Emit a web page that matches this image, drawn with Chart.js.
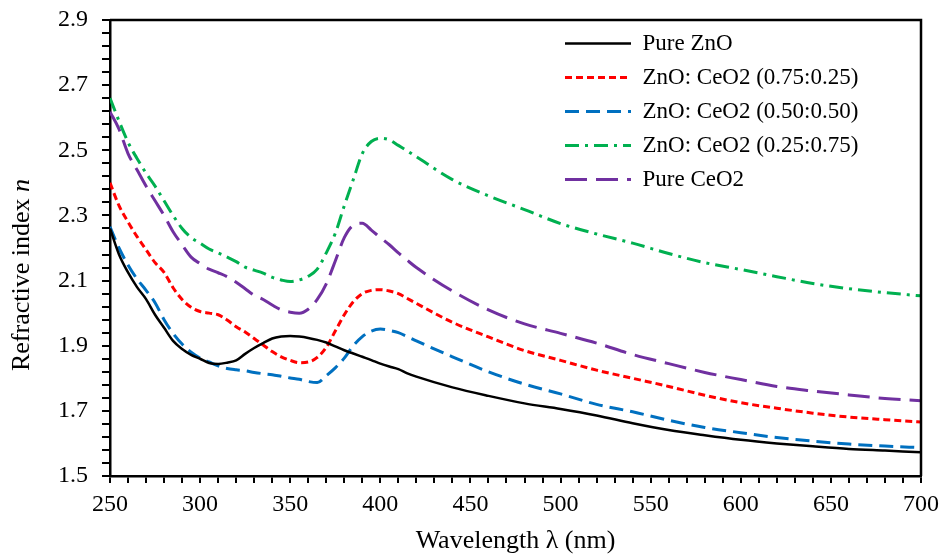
<!DOCTYPE html>
<html>
<head>
<meta charset="utf-8">
<script src="https://cdn.jsdelivr.net/npm/chart.js@4"></script>
<style>
  body { margin: 0; background: #fff; }
</style>
</head>
<body>
<canvas id="grafico" width="941" height="557"></canvas>
<script>
// Longitudes de onda (nm)
const wavelength = [250, 255, 260, 265, 270, 275, 280, 285, 290, 295, 300, 305, 310, 315, 320, 325, 330, 335, 340, 345,
    350, 355, 360, 365, 370, 375, 380, 385, 390, 395, 400, 405, 410, 415, 420,
    440, 460, 480, 500, 520, 540, 560, 580, 600, 620, 640, 660, 680, 700];

// Indice de refraccion de cada muestra
const pureZnO = [2.26, 2.18, 2.125, 2.08, 2.043, 1.995, 1.955, 1.915, 1.89, 1.872, 1.86, 1.847, 1.844, 1.848, 1.855, 1.875, 1.893, 1.908, 1.922, 1.928,
    1.93, 1.928, 1.924, 1.918, 1.91, 1.898, 1.886, 1.876, 1.866, 1.856, 1.845, 1.836, 1.828, 1.815, 1.805,
    1.772, 1.746, 1.723, 1.706, 1.686, 1.662, 1.641, 1.625, 1.611, 1.600, 1.591, 1.583, 1.578, 1.573];
const znoCeo2_75 = [2.40, 2.33, 2.28, 2.235, 2.195, 2.155, 2.125, 2.078, 2.042, 2.018, 2.005, 2.0, 1.995, 1.979, 1.958, 1.942, 1.922, 1.902, 1.882, 1.866,
    1.855, 1.848, 1.85, 1.864, 1.895, 1.945, 1.995, 2.035, 2.06, 2.07, 2.072, 2.068, 2.06, 2.045, 2.03,
    1.972, 1.927, 1.885, 1.855, 1.825, 1.800, 1.775, 1.748, 1.725, 1.708, 1.693, 1.681, 1.673, 1.666];
const znoCeo2_50 = [2.265, 2.20, 2.148, 2.105, 2.07, 2.032, 1.98, 1.938, 1.905, 1.88, 1.862, 1.85, 1.838, 1.83, 1.826, 1.823, 1.818, 1.814, 1.811, 1.806,
    1.801, 1.797, 1.79, 1.787, 1.808, 1.832, 1.862, 1.9, 1.928, 1.945, 1.951, 1.947, 1.94, 1.928, 1.915,
    1.866, 1.82, 1.782, 1.752, 1.72, 1.697, 1.671, 1.649, 1.633, 1.618, 1.607, 1.598, 1.592, 1.587];
const znoCeo2_25 = [2.66, 2.59, 2.525, 2.475, 2.43, 2.39, 2.345, 2.30, 2.26, 2.232, 2.215, 2.197, 2.185, 2.172, 2.158, 2.141, 2.132, 2.123, 2.11, 2.102,
    2.097, 2.102, 2.113, 2.135, 2.185, 2.245, 2.33, 2.41, 2.49, 2.527, 2.537, 2.532, 2.515, 2.498, 2.48,
    2.41, 2.36, 2.318, 2.275, 2.243, 2.215, 2.183, 2.155, 2.134, 2.112, 2.091, 2.075, 2.063, 2.053];
const pureCeO2 = [2.618, 2.565, 2.49, 2.44, 2.39, 2.345, 2.30, 2.25, 2.21, 2.172, 2.152, 2.135, 2.124, 2.112, 2.095, 2.075, 2.055, 2.042, 2.025, 2.01,
    2.003, 2.0, 2.012, 2.042, 2.09, 2.16, 2.232, 2.27, 2.276, 2.255, 2.232, 2.21, 2.185, 2.162, 2.14,
    2.068, 2.01, 1.967, 1.938, 1.908, 1.873, 1.845, 1.818, 1.796, 1.775, 1.761, 1.749, 1.738, 1.731];

const nombres = ['Pure ZnO', 'ZnO: CeO2 (0.75:0.25)', 'ZnO: CeO2 (0.50:0.50)', 'ZnO: CeO2 (0.25:0.75)', 'Pure CeO2'];

const serif = "'Liberation Serif', 'Times New Roman', serif";
Chart.defaults.font.family = serif;
Chart.defaults.color = '#000';

function puntos(valores) {
    return wavelength.map((x, i) => ({ x: x, y: valores[i] }));
}

// Marco superior y derecho, leyenda dentro del area y titulo del eje y
const marco = {
    id: 'marco',
    afterLayout(chart) {
        const area = chart.chartArea;
        const legend = chart.legend;
        const w = legend.width;
        legend.left = area.left + 444;
        legend.right = legend.left + w;
        legend.top = area.top + 1;
    },
    afterDraw(chart) {
        const ctx = chart.ctx;
        const area = chart.chartArea;
        ctx.save();
        ctx.strokeStyle = '#000';
        ctx.lineWidth = 2.5;
        ctx.beginPath();
        ctx.moveTo(area.left, area.top);
        ctx.lineTo(area.right, area.top);
        ctx.lineTo(area.right, area.bottom);
        ctx.stroke();

        // titulo eje y con la n en cursiva
        const f1 = '26px ' + serif;
        const f2 = 'italic 26px ' + serif;
        ctx.font = f1;
        const w1 = ctx.measureText('Refractive index ').width;
        ctx.font = f2;
        const w2 = ctx.measureText('n').width;
        ctx.translate(22, (area.top + area.bottom) / 2 + 27);
        ctx.rotate(-Math.PI / 2);
        ctx.fillStyle = '#000';
        ctx.textAlign = 'left';
        ctx.textBaseline = 'middle';
        const x0 = -(w1 + w2) / 2;
        ctx.font = f1;
        ctx.fillText('Refractive index ', x0, 0);
        ctx.font = f2;
        ctx.fillText('n', x0 + w1, 0);
        ctx.restore();
    }
};

const graf = document.getElementById('grafico');

new Chart(graf, {
    type: 'line',
    data: {
    datasets: [{
        label: nombres[0],
        data: puntos(pureZnO),
        borderColor: '#000000',
        borderWidth: 2.5
    }, {
        label: nombres[1],
        data: puntos(znoCeo2_75),
        borderColor: '#FF0000',
        borderWidth: 3,
        borderDash: [7, 4]
    }, {
        label: nombres[2],
        data: puntos(znoCeo2_50),
        borderColor: '#0070C0',
        borderWidth: 3,
        borderDash: [14, 7]
    }, {
        label: nombres[3],
        data: puntos(znoCeo2_25),
        borderColor: '#00B050',
        borderWidth: 3,
        borderDash: [14, 6, 3, 6]
    }, {
        label: nombres[4],
        data: puntos(pureCeO2),
        borderColor: '#7030A0',
        borderWidth: 3,
        borderDash: [22, 9]
    }]
    },
    options: {
    responsive: false,
    animation: false,
    layout: {
        padding: { top: 20, right: 20, left: 0, bottom: 0 }
    },
    elements: {
        point: { radius: 0 },
        line: { cubicInterpolationMode: 'monotone', fill: false }
    },
    plugins: {
        tooltip: { enabled: false },
        legend: {
        position: 'chartArea',
        align: 'start',
        labels: {
            font: { size: 23 },
            color: '#000',
            usePointStyle: true,
            pointStyle: 'line',
            pointStyleWidth: 66,
            boxHeight: 10,
            padding: 11,
            generateLabels(chart) {
            return chart.data.datasets.map((ds, i) => ({
                text: ds.label,
                fillStyle: ds.borderColor,
                strokeStyle: ds.borderColor,
                lineWidth: ds.borderWidth,
                lineDash: ds.borderDash || [],
                lineCap: 'butt',
                pointStyle: 'line',
                fontColor: '#000',
                datasetIndex: i
            }));
            }
        }
        }
    },
    scales: {
        x: {
        type: 'linear',
        min: 250,
        max: 700,
        afterFit(scale) {
            scale.height = 81;
            scale.paddingLeft = 0;
            scale.paddingRight = 0;
        },
        border: { color: '#000', width: 2.5 },
        grid: { drawOnChartArea: false, color: '#000', lineWidth: 2, tickLength: 7 },
        ticks: {
            stepSize: 10,
            autoSkip: false,
            maxRotation: 0,
            padding: 7,
            font: { size: 24 },
            callback: (v, i) => (i % 5 === 0 ? String(Math.round(v)) : '')
        },
        title: {
            display: true,
            text: 'Wavelength λ (nm)',
            font: { size: 26 },
            padding: { top: 0, bottom: 0 }
        }
        },
        y: {
        min: 1.5,
        max: 2.9,
        afterFit(scale) {
            scale.width = 110;
            scale.paddingTop = 0;
            scale.paddingBottom = 0;
        },
        border: { color: '#000', width: 2.5 },
        grid: { drawOnChartArea: false, color: '#000', lineWidth: 2, tickLength: 8 },
        ticks: {
            stepSize: 0.04,
            autoSkip: false,
            padding: 14,
            font: { size: 24 },
            callback: (v, i) => (i % 5 === 0 ? v.toFixed(1) : '')
        }
        }
    }
    },
    plugins: [marco]
});
</script>
</body>
</html>
